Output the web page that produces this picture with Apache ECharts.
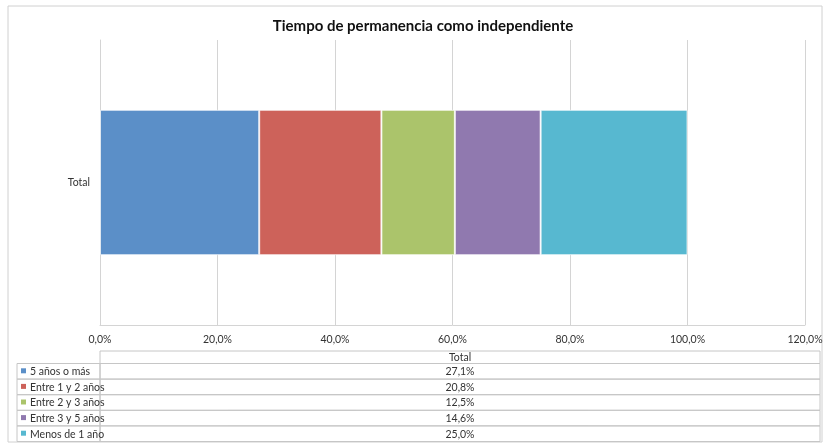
<!DOCTYPE html>
<html><head><meta charset="utf-8">
<script src="https://cdn.jsdelivr.net/npm/echarts@6/dist/echarts.min.js"></script>
<style>html,body{margin:0;padding:0;background:#fff}#c{width:828px;height:446px}</style>
</head><body><div id="c"></div>
<script>
const title = 'Tiempo de permanencia como independiente';
const categories = ['Total'];
const seriesNames = ['5 años o más', 'Entre 1 y 2 años', 'Entre 2 y 3 años', 'Entre 3 y 5 años', 'Menos de 1 año'];
const seriesValues = [0.271, 0.208, 0.125, 0.146, 0.250];
const colors = ['#5B8FC8', '#CD625A', '#ABC46B', '#9079AF', '#57B8D0'];
const xTicks = [0, 0.2, 0.4, 0.6, 0.8, 1.0, 1.2];

const font = 'Lato, "Open Sans", sans-serif';
const fmt = v => (v * 100).toFixed(1).replace('.', ',') + '%';

const chart = echarts.init(document.getElementById('c'), null, {renderer: 'canvas'});

// data table graphics
const tblLeft = 17, colX = 100, tblRight = 820, headTop = 351, headH = 12.5, rowH = 15.6;
const lineColor = '#c6c6c6';
const g = [];
g.push({type: 'rect', shape: {x: 8, y: 6, width: 814, height: 436}, style: {fill: 'none', stroke: '#d0d0d0', lineWidth: 1}, silent: true, z: -1});
// header
g.push({type: 'rect', shape: {x: colX, y: headTop, width: tblRight - colX, height: headH}, style: {fill: 'none', stroke: lineColor, lineWidth: 1}});
g.push({type: 'text', x: (colX + tblRight) / 2, y: headTop + headH / 2 + 0.5, style: {text: categories[0], font: '10.5px ' + font, fill: '#333', align: 'center', verticalAlign: 'middle'}});
seriesNames.forEach((name, i) => {
  const y = headTop + headH + i * rowH;
  g.push({type: 'rect', shape: {x: tblLeft, y: y, width: colX - tblLeft, height: rowH}, style: {fill: 'none', stroke: lineColor, lineWidth: 1}});
  g.push({type: 'rect', shape: {x: colX, y: y, width: tblRight - colX, height: rowH}, style: {fill: 'none', stroke: lineColor, lineWidth: 1}});
  g.push({type: 'rect', shape: {x: 21, y: y + rowH / 2 - 3, width: 5, height: 5}, style: {fill: colors[i]}});
  g.push({type: 'text', x: 30, y: y + rowH / 2 + 0.5, style: {text: name, font: '10.5px ' + font, fill: '#333', align: 'left', verticalAlign: 'middle'}});
  g.push({type: 'text', x: (colX + tblRight) / 2, y: y + rowH / 2 + 0.5, style: {text: fmt(seriesValues[i]), font: '10.5px ' + font, fill: '#333', align: 'center', verticalAlign: 'middle'}});
});

chart.setOption({
  animation: false,
  color: colors,
  title: {text: title, left: 418, top: 14, textAlign: 'center',
    textStyle: {fontFamily: font, fontSize: 15, fontWeight: 'bold', color: '#111'}},
  grid: {left: 100, right: 23, top: 40, bottom: 121, containLabel: false},
  xAxis: {type: 'value', min: 0, max: 1.2, interval: 0.2,
    axisLine: {show: true, lineStyle: {color: '#d4d4d4'}}, axisTick: {show: false},
    splitLine: {show: true, lineStyle: {color: '#d4d4d4', width: 1}},
    axisLabel: {formatter: v => fmt(v), fontFamily: font, fontSize: 10.5, color: '#333', margin: 9}},
  yAxis: {type: 'category', data: categories,
    axisLine: {show: true, lineStyle: {color: '#d4d4d4'}}, axisTick: {show: false},
    axisLabel: {fontFamily: font, fontSize: 10.5, color: '#333', margin: 10}},
  series: seriesNames.map((name, i) => ({
    name: name, type: 'bar', stack: 'total', barWidth: '51%',
    itemStyle: {color: colors[i], borderColor: 'rgba(255,255,255,0.7)', borderWidth: 1},
    data: [seriesValues[i]]
  })),
  graphic: g
});
</script></body></html>
